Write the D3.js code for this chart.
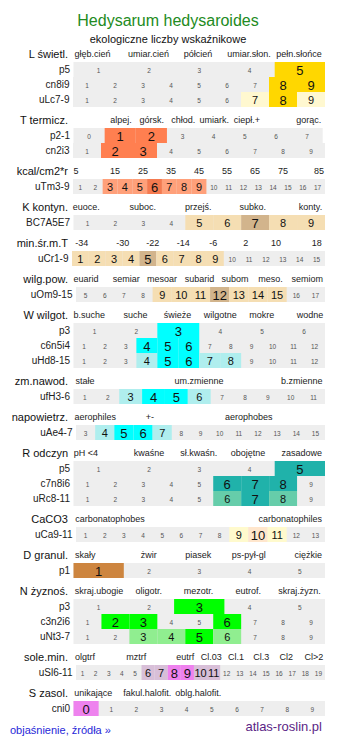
<!DOCTYPE html>
<html><head><meta charset="utf-8">
<script src="https://cdn.jsdelivr.net/npm/d3@7"></script>
<style>
body{margin:0;background:#fff}
svg{display:block}
text{font-family:"Liberation Sans",Arial,sans-serif}
</style>
</head><body>
<svg id="chart" width="337" height="745"></svg>
<script>
// ---------------- DATA ----------------
const title = "Hedysarum hedysaroides";
const subtitle = "ekologiczne liczby wskaźnikowe";
const footerLeft = "objaśnienie, źródła »";
const footerRight = "atlas-roslin.pl";

const groupNames = ["L świetl.","T termicz.","kcal/cm2*r","K kontyn.","min.śr.m.T","wilg.pow.","W wilgot.","zm.nawod.","napowietrz.","R odczyn","CaCO3","D granul.","N żyznoś.","sole.min.","S zasol."];

const groupCategories = [
  ["głęb.cień","umiar.cień","półcień","umiar.słon.","pełn.słońce"],
  ["alpej.","górsk.","chłod.","umiark.","ciepł.+","gorąc."],
  ["5","15","25","35","45","55","65","75","85"],
  ["euoce.","suboc.","przejś.","subko.","konty."],
  ["-34","-30","-22","-14","-6","2","10","18"],
  ["euarid","semiar","mesoar","subarid","subom","meso.","semiom"],
  ["b.suche","suche","świeże","wilgotne","mokre","wodne"],
  ["stałe","um.zmienne","b.zmienne"],
  ["aerophiles","+-","aerophobes"],
  ["pH <4","kwaśne","sł.kwaśn.","obojętne","zasadowe"],
  ["carbonatophobes","carbonatophiles"],
  ["skały","żwir","piasek","ps-pył-gl","ciężkie"],
  ["skraj.ubogie","oligotr.","mezotr.","eutrof.","skraj.żyzn."],
  ["olgtrf","mztrf","eutrf","Cl.03","Cl.1","Cl.3","Cl2","Cl>2"],
  ["unikające","fakul.halofit.","oblg.halofit."]
];

const rowGroup  = [0,0,0, 1,1, 2, 3, 4, 5, 6,6,6, 7, 8, 9,9,9, 10, 11, 12,12,12, 13, 14];
const rowLabels = ["p5","cn8i9","uLc7-9","p2-1","cn2i3","uTm3-9","BC7A5E7","uCr1-9","uOm9-15","p3","c6n5i4","uHd8-15","ufH3-6","uAe4-7","p5","c7n8i6","uRc8-11","uCa9-11","p1","p3","c3n2i6","uNt3-7","uSl6-11","cni0"];
const rowFrom   = [1,1,1, 0,1, 1, 1, 1, 5, 1,1,1, 1, 3, 1,1,1, 1, 1, 1,1,1, 1, 0];
const rowTo     = [5,9,9, 7,9, 17, 9, 15, 17, 6,12,12, 11, 15, 5,9,9, 13, 5, 5,9,9, 19, 9];
const rowMain   = [[5],[8,9],[8],[1,2],[2,3],[6],[7],[5],[12],[3],[4,5,6],[5,6],[4,5],[5,6],[5],[6,7,8],[7],[10],[1],[3],[2,3,6],[5],[8,9],[0]];
const rowSide   = [[],[],[7,9],[],[],[3,4,5,7,8,9],[5,6,8,9],[1,2,3,4,6,7,8,9],[9,10,11,13,14,15],[],[],[4,7,8],[3,6],[4,7],[],[],[6,8],[9,11],[],[],[],[3,4,6],[6,7,10,11],[]];

// ---------------- LAYOUT / STYLE ----------------
const categoryX = [
  [92.5,148.5,198,249,299],
  [121,151.7,183.3,214.3,247,308.7],
  [76,115,143,171,199,227,255,283,319],
  [86.3,142.7,198.3,252.8,310.5],
  [81.7,122.7,152.7,183.3,213.3,245.7,276,316.7],
  [86,126.3,162,199.5,235,270.5,307.2],
  [89.3,135.5,177.5,220.3,261.7,310],
  [85,199,301.7],
  [95.3,150,248.8],
  [86,149,198.7,248,301.8],
  [110,290.3],
  [85.3,148.7,198.3,248.7,308.3],
  [99,148.7,198.5,248.3,299.5],
  [85,136.2,185.3,211.2,236,261.3,286.2,313.8],
  [93.3,147.3,198.3]
];
const rowX0 = [73.5,73,73, 73.5,73, 73, 73.5, 72, 76, 73.5,73.5,73.5, 73.5, 76, 73.5,73.5,73.5, 76, 73.5, 73.5,73.5,73.5, 76, 73.5];
const rowX1 = [325,325,325, 322.7,325, 325, 325, 325, 325, 325,325,325, 325, 325, 325,325,325, 325, 325, 325,325,325, 325, 325];
const groupColors = [
  ["#ffd700","#fff8d0"],
  ["#ff7f50","#ffa07a"],
  ["#f47a50","#ffa07a"],
  ["#d2b48c","#f5deb3"],
  ["#d2b48c","#f5deb3"],
  ["#d2b48c","#f5deb3"],
  ["#00ffff","#afeeee"],
  ["#00ffff","#afeeee"],
  ["#00ffff","#afeeee"],
  ["#20b2aa","#66cdaa"],
  ["#ffe6cc","#fffacd"],
  ["#cd853f","#deb887"],
  ["#00ff00","#90ee90"],
  ["#ee82ee","#d8bfd8"],
  ["#ee82ee","#d8bfd8"]
];
const ROW_H = 15, FIRST_ROW = 62, HEAD_TO_ROW = 8, ROW_TO_HEAD = 13;

// ---------------- DRAW ----------------
const svg = d3.select("#chart");

svg.append("text").attr("x",168).attr("y",20).attr("text-anchor","middle")
  .attr("dominant-baseline","central").attr("font-size",16).attr("fill","#228b22").text(title);
svg.append("text").attr("x",168).attr("y",38.5).attr("text-anchor","middle")
  .attr("dominant-baseline","central").attr("font-size",11).attr("fill","#111").text(subtitle);

const groupHeadY = [];
const rowY = [];
let y = FIRST_ROW;
groupNames.forEach((g, gi) => {
  if (gi > 0) y += ROW_TO_HEAD + HEAD_TO_ROW;
  groupHeadY.push(y - HEAD_TO_ROW);
  rowGroup.forEach((rg, ri) => {
    if (rg === gi) { rowY[ri] = y; y += ROW_H; }
  });
});

groupNames.forEach((g, gi) => {
  const hy = groupHeadY[gi];
  svg.append("text").attr("x",68).attr("y",hy).attr("text-anchor","end")
    .attr("dominant-baseline","central").attr("font-size",11).attr("fill","#111").text(g);
  svg.selectAll(null).data(groupCategories[gi]).enter().append("text")
    .attr("x",(d,i)=>categoryX[gi][i]).attr("y",hy).attr("text-anchor","middle")
    .attr("dominant-baseline","central").attr("font-size",9).attr("fill","#222").text(d=>d);
});

rowLabels.forEach((lab, ri) => {
  const gi = rowGroup[ri];
  const y0 = rowY[ri];
  const dom = d3.range(rowFrom[ri], rowTo[ri] + 1);
  const x = d3.scaleBand().domain(dom).range([rowX0[ri], rowX1[ri]]).padding(0);
  const g = svg.append("g");
  g.append("rect").attr("x",rowX0[ri]).attr("y",y0).attr("width",rowX1[ri]-rowX0[ri]).attr("height",ROW_H).attr("fill","#eeeeee");
  const mains = rowMain[ri], sides = rowSide[ri];
  g.selectAll("rect.c").data(dom.filter(v => mains.includes(v) || sides.includes(v))).enter().append("rect")
    .attr("x", d => x(d)).attr("y", y0).attr("width", x.bandwidth()).attr("height", ROW_H)
    .attr("fill", d => mains.includes(d) ? groupColors[gi][0] : groupColors[gi][1]);
  g.selectAll("text.n").data(dom).enter().append("text")
    .attr("x", d => x(d) + x.bandwidth()/2).attr("y", y0 + ROW_H/2 + 0.5)
    .attr("text-anchor","middle").attr("dominant-baseline","central")
    .attr("font-size", d => mains.includes(d) ? 13 : (sides.includes(d) ? 11 : 6.5))
    .attr("fill", d => (mains.includes(d) || sides.includes(d)) ? "#111" : "#555")
    .text(d => d);
  svg.append("text").attr("x", rowX0[ri] - 3.5).attr("y", y0 + ROW_H/2)
    .attr("text-anchor","end").attr("dominant-baseline","central")
    .attr("font-size",10).attr("fill","#222").text(lab);
});

svg.append("text").attr("x",10).attr("y",730).attr("dominant-baseline","central")
  .attr("font-size",11).attr("fill","#2727d8").text(footerLeft);
svg.append("text").attr("x",322).attr("y",726.5).attr("text-anchor","end").attr("dominant-baseline","central")
  .attr("font-size",13).attr("fill","#5b1f86").text(footerRight);
</script>
</body></html>
